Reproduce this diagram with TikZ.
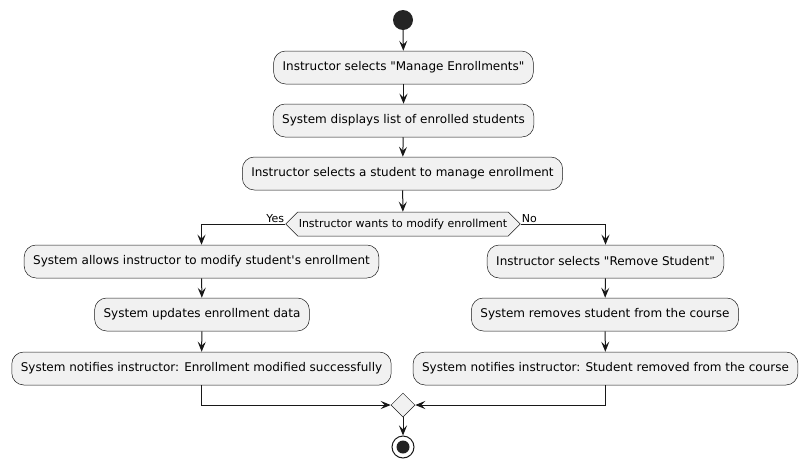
\documentclass[tikz,border=0pt]{standalone}
\usepackage{fontspec}
\setmainfont{DejaVu Sans}[Ligatures=TeXOff]
\usetikzlibrary{arrows.meta,shapes.geometric,shapes.symbols}
\definecolor{actfill}{HTML}{F1F1F1}
\definecolor{lnc}{HTML}{181818}
\begin{document}
\begin{tikzpicture}[x=1pt, y=-1pt, >={Stealth[length=10pt,width=8pt,inset=4pt]},
  act/.style={draw=lnc, line width=.5pt, fill=actfill, rounded corners=12pt, minimum height=33pt, inner xsep=9pt, font=\fontsize{12}{14}\selectfont},
  flow/.style={->, draw=lnc, line width=1pt},
  lbl/.style={font=\fontsize{11}{13}\selectfont, inner sep=1pt}]
\useasboundingbox (0,0) rectangle (809,469);
\node[circle, fill=lnc!95!white, minimum size=20pt, inner sep=0] (start) at (403,20) {};
\node[act] (a1) at (403.5,67.5) {Instructor selects "Manage Enrollments"};
\node[act] (a2) at (403.5,120.5) {System displays list of enrolled students};
\node[act] (a3) at (402.5,173.5) {Instructor selects a student to manage enrollment};
\node[signal, signal to=west and east, signal pointer angle=90, draw=lnc, fill=actfill, line width=.5pt, minimum height=24pt, inner xsep=1pt, font=\fontsize{11}{13}\selectfont] (dec) at (403,224) {Instructor wants to modify enrollment};
\node[lbl, anchor=south east] (yes) at (dec.west) {Yes};
\node[lbl, anchor=south west] (no) at (dec.east) {No};
% left branch
\node[act] (l1) at (201.5,261.5) {System allows instructor to modify student's enrollment};
\node[act] (l2) at (202,314.5) {System updates enrollment data};
\node[act] (l3) at (201.5,368.5) {System notifies instructor: Enrollment modified successfully};
% right branch
\node[act] (r1) at (605.5,261.5) {Instructor selects "Remove Student"};
\node[act] (r2) at (605,314.5) {System removes student from the course};
\node[act] (r3) at (605.5,368.5) {System notifies instructor: Student removed from the course};
\node[diamond, draw=lnc, line width=.5pt, fill=actfill, minimum size=24pt, inner sep=0] (merge) at (403,405) {};
\node[circle, draw=lnc, line width=1pt, minimum size=22pt, inner sep=0, path picture={\fill[lnc!95!white] (path picture bounding box.center) circle (6.5pt);}] (stop) at (403,447) {};
\draw[flow] (start) -- (a1);
\draw[flow] (a1) -- (a2);
\draw[flow] (a2) -- (a3);
\draw[flow] (a3) -- (dec);
\draw[flow] (dec.west) -| (l1);
\draw[flow] (l1) -- (l2);
\draw[flow] (l2) -- (l3);
\draw[flow] (dec.east) -| (r1);
\draw[flow] (r1) -- (r2);
\draw[flow] (r2) -- (r3);
\draw[flow] (l3) |- (merge);
\draw[flow] (r3) |- (merge);
\draw[flow] (merge) -- (stop);
\end{tikzpicture}
\end{document}
